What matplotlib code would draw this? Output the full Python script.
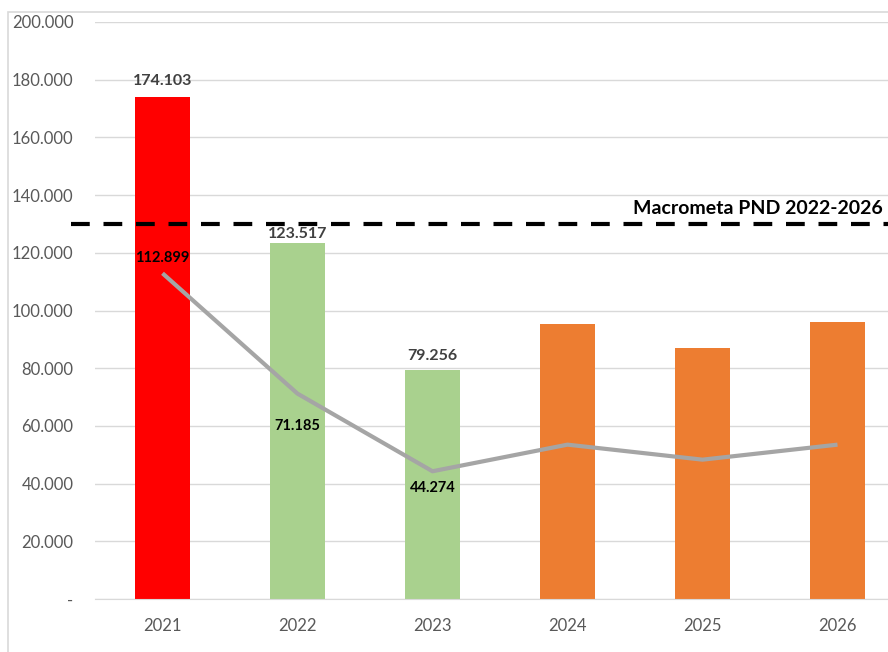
import numpy as np
import matplotlib.pyplot as plt
from matplotlib.patches import Rectangle

#%% - Data
years = ['2021', '2022', '2023', '2024', '2025', '2026']
bar_vals = [174.103, 123.517, 79.256, 95.3, 87.0, 96.0]
bar_cols = ['#FF0000', '#A9D18E', '#A9D18E', '#ED7D31', '#ED7D31', '#ED7D31']
bar_labels = ['174.103', '123.517', '79.256', '', '', '']
line_vals = [112.899, 71.185, 44.274, 53.5, 48.3, 53.5]
line_labels = ['112.899', '71.185', '44.274', '', '', '']
meta_val = 130.0
meta_text = 'Macrometa PND 2022-2026'
yticks = [0, 20, 40, 60, 80, 100, 120, 140, 160, 180, 200]
ytick_labels = ['-', '20.000', '40.000', '60.000', '80.000', '100.000',
                '120.000', '140.000', '160.000', '180.000', '200.000']

#%% - Plot
plt.rcParams['font.family'] = ['Lato', 'DejaVu Sans']

fig = plt.figure(figsize=(8.88, 6.52), dpi=100)
# light chart-area border (cut off on right and bottom)
fig.patches.append(Rectangle((8/888, -0.1), 1.2, (652-12)/652 + 0.1,
                             transform=fig.transFigure, fill=False,
                             edgecolor='#D9D9D9', linewidth=1.2))

ax = fig.add_axes([95/888, 53/652, 810/888, 577/652])
x = np.arange(len(years))

ax.bar(x, bar_vals, width=0.41, color=bar_cols, zorder=2)
ax.plot(x, line_vals, color='#A5A5A5', linewidth=3, zorder=3, solid_capstyle='butt')

# bar value labels
bar_offs = [6, 1, 5]
for xi, v, lab, o in zip(x, bar_vals, bar_labels, bar_offs + [0] * 3):
    if lab:
        ax.annotate(lab, (xi, v), xytext=(0, o), textcoords='offset points',
                    ha='center', va='bottom', fontsize=11.5, fontweight='bold',
                    color='#404040', zorder=4)

# line value labels
line_offs = [(6, 'bottom'), (-18, 'top'), (-7, 'top')]
for xi, v, lab, o in zip(x, line_vals, line_labels, line_offs + [None] * 3):
    if lab:
        ax.annotate(lab, (xi, v), xytext=(0, o[0]), textcoords='offset points',
                    ha='center', va=o[1], fontsize=10.5, fontweight='bold',
                    color='black', zorder=4)

# target line
ax.plot([-0.68, 5.6], [meta_val, meta_val], color='black', linewidth=3,
        linestyle=(0, (4.5, 3.3)), clip_on=False, zorder=5)
ax.text(883/888, (652-209)/652, meta_text, transform=fig.transFigure,
        ha='right', va='center', fontsize=14, fontweight='bold', color='black')

ax.set_xlim(-0.5, 5.5)
ax.set_ylim(0, 200)
ax.set_xticks(x)
ax.set_xticklabels(years)
ax.set_yticks(yticks)
ax.set_yticklabels(ytick_labels)
ax.tick_params(length=0, labelsize=12, labelcolor='#595959')
ax.tick_params(axis='y', pad=15.5)
ax.tick_params(axis='x', pad=14)
ax.grid(axis='y', color='#D9D9D9', linewidth=1, zorder=0)
ax.set_axisbelow(True)
for s in ['top', 'right', 'left']:
    ax.spines[s].set_visible(False)
ax.spines['bottom'].set_color('#D9D9D9')

fig.savefig('out.png', dpi=100)
